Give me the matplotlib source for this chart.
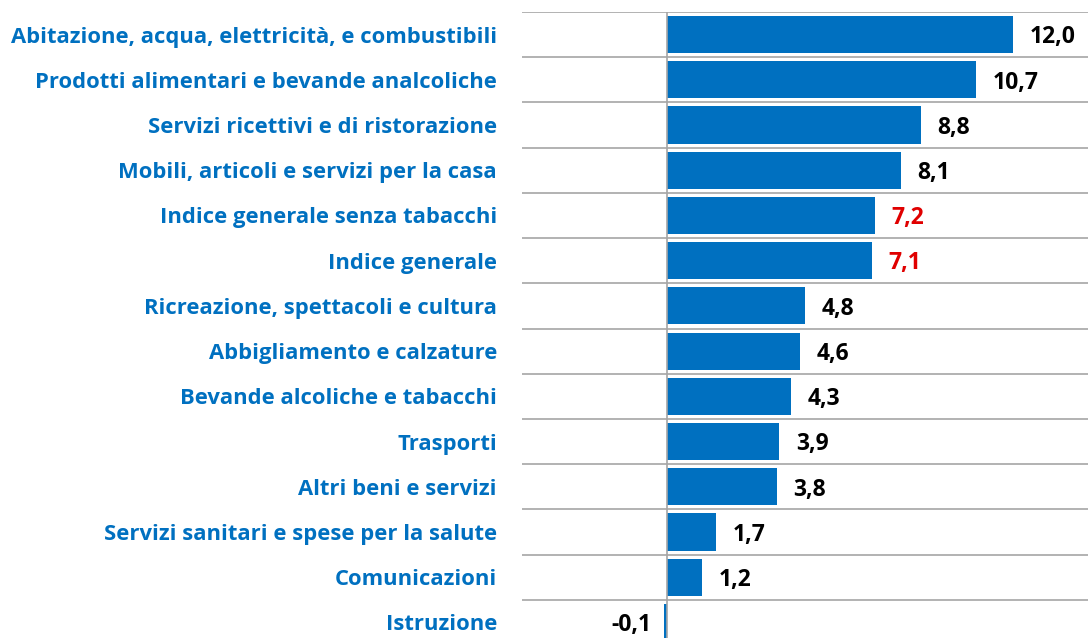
import matplotlib.pyplot as plt

# Categorie e variazioni (%)
categorie = [
    "Abitazione, acqua, elettricità, e combustibili",
    "Prodotti alimentari e bevande analcoliche",
    "Servizi ricettivi e di ristorazione",
    "Mobili, articoli e servizi per la casa",
    "Indice generale senza tabacchi",
    "Indice generale",
    "Ricreazione, spettacoli e cultura",
    "Abbigliamento e calzature",
    "Bevande alcoliche e tabacchi",
    "Trasporti",
    "Altri beni e servizi",
    "Servizi sanitari e spese per la salute",
    "Comunicazioni",
    "Istruzione",
]
valori = [12.0, 10.7, 8.8, 8.1, 7.2, 7.1, 4.8, 4.6, 4.3, 3.9, 3.8, 1.7, 1.2, -0.1]
etichette_rosse = ["Indice generale senza tabacchi", "Indice generale"]

plt.rcParams['font.family'] = ['Open Sans', 'DejaVu Sans']

fig = plt.figure(figsize=(10.88, 6.38), dpi=100)
ax = fig.add_axes([522 / 1088, -7 / 638, 1 - 522 / 1088, (633) / 638])

y = list(range(len(categorie)))
ax.barh(y, valori, height=0.82, color="#0070C0", zorder=2)

ax.set_xlim(-5.03, 14.6)
ax.set_ylim(len(categorie) - 0.5, -0.5)

# linee orizzontali tra le categorie
for k in range(len(categorie) + 1):
    ax.axhline(k - 0.5, color="#a6a6a6", lw=1.2, zorder=1)
ax.axvline(0, color="#a6a6a6", lw=1.2, zorder=3)

ax.set_yticks(y)
ax.set_yticklabels(categorie, color="#0070C0", fontsize=15.8, fontweight="bold")
ax.tick_params(axis="y", length=0, pad=18)
ax.set_xticks([])
for s in ax.spines.values():
    s.set_visible(False)

# etichette dei valori
for yi, v, c in zip(y, valori, categorie):
    col = "#E00000" if c in etichette_rosse else "black"
    txt = f"{v:.1f}".replace(".", ",")
    if v >= 0:
        ax.annotate(txt, (v, yi), xytext=(12, -2), textcoords="offset points",
                    ha="left", va="center", fontsize=16.5, fontweight="bold", color=col)
    else:
        ax.annotate(txt, (0, yi), xytext=(-11, -2), textcoords="offset points",
                    ha="right", va="center", fontsize=16.5, fontweight="bold", color=col)

plt.savefig("out.png", dpi=100)
